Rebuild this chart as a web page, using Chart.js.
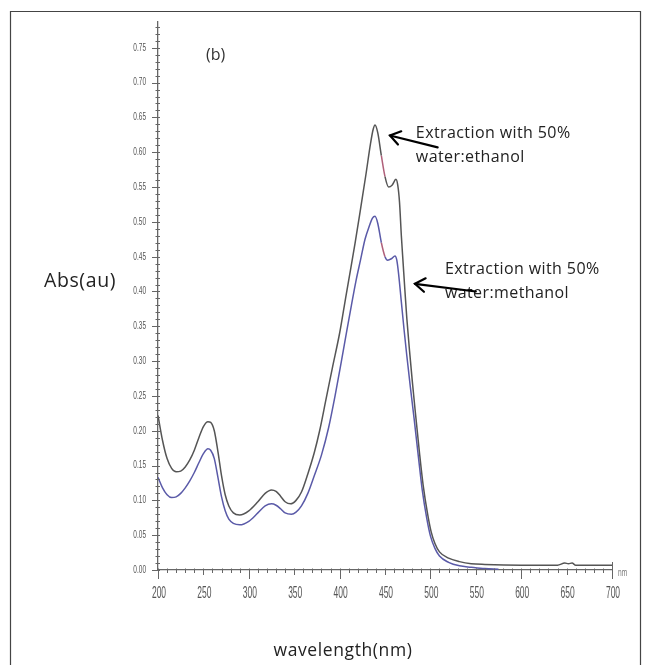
<!DOCTYPE html>
<html>
<head>
<meta charset="utf-8">
<script src="https://cdn.jsdelivr.net/npm/chart.js@4/dist/chart.umd.min.js"></script>
<style>
html,body{margin:0;padding:0;background:#fff;}
#wrap{position:relative;width:649px;height:665px;}
</style>
</head>
<body>
<div id="wrap"><canvas id="c" width="649" height="665"></canvas></div>
<script>
// ---- data ----
const ethanolNm  = [200,205,210,215,220,225,230,235,240,245,250,255,258,262,266,270,274,278,283,290,300,310,318,325,330,335,340,346,352,358,365,372,378,385,392,400,405,410,417,423,429,434,437,439,442,446,450,454,458,462,464,466,468,470,472,474,477,480,483,488,492,497,501,505,510,520,532,545,560,600,640,648,652,656,660,700];
const ethanolAbs = [0.222,0.186,0.160,0.146,0.141,0.142,0.148,0.158,0.172,0.190,0.206,0.213,0.212,0.200,0.170,0.135,0.108,0.092,0.082,0.079,0.085,0.098,0.110,0.115,0.113,0.106,0.098,0.095,0.100,0.112,0.138,0.168,0.200,0.245,0.290,0.340,0.378,0.416,0.469,0.518,0.568,0.612,0.633,0.639,0.628,0.595,0.565,0.550,0.553,0.561,0.553,0.528,0.480,0.440,0.400,0.362,0.315,0.272,0.232,0.168,0.122,0.080,0.054,0.038,0.026,0.017,0.012,0.009,0.008,0.007,0.007,0.010,0.009,0.010,0.007,0.007];
const methanolNm  = [200,205,210,215,220,225,230,235,240,245,250,255,258,262,266,270,274,278,283,290,300,310,318,325,330,335,340,347,352,358,365,372,380,388,395,402,408,413,418,423,428,433,436,439,442,446,450,453,457,461,463,465,468,471,474,478,482,487,491,496,500,505,510,520,532,545,560,575];
const methanolAbs = [0.133,0.118,0.108,0.104,0.105,0.110,0.118,0.128,0.140,0.154,0.167,0.174,0.172,0.160,0.133,0.105,0.085,0.073,0.067,0.065,0.070,0.082,0.092,0.095,0.093,0.088,0.082,0.080,0.083,0.092,0.110,0.135,0.165,0.205,0.250,0.300,0.344,0.380,0.415,0.445,0.475,0.495,0.505,0.508,0.498,0.470,0.450,0.445,0.447,0.451,0.445,0.425,0.385,0.345,0.308,0.262,0.218,0.160,0.115,0.074,0.049,0.031,0.020,0.011,0.006,0.004,0.002,0.001];
const xTickLabels = ['200','250','300','350','400','450','500','550','600','650','700'];
const yTickLabels = ['0.00','0.05','0.10','0.15','0.20','0.25','0.30','0.35','0.40','0.45','0.50','0.55','0.60','0.65','0.70','0.75'];
const seriesNames = ['Extraction with 50% water:ethanol','Extraction with 50% water:methanol'];

const toXY = (xs, ys) => xs.map((x, i) => ({x: x, y: ys[i]}));
const tint = (base) => ({
  borderColor: ctx => (ctx.p0.parsed.x >= 443 && ctx.p1.parsed.x <= 452) ? '#b0607a' : base
});

const axisColor = '#666';
const tickFamily = "'Liberation Sans', Arial, sans-serif";

const decor = {
  id: 'decor',
  afterDraw(chart) {
    const c = chart.ctx, xs = chart.scales.x, ys = chart.scales.y;
    const X = v => xs.getPixelForValue(v), Y = v => ys.getPixelForValue(v);
    c.save();
    // outer frame
    c.strokeStyle = '#444'; c.lineWidth = 1.2;
    c.beginPath(); c.moveTo(10.5, 665); c.lineTo(10.5, 11.5); c.lineTo(640.5, 11.5); c.lineTo(640.5, 665); c.stroke();
    // minor / major ticks
    c.strokeStyle = axisColor; c.lineWidth = 1;
    const x0 = X(200), y0 = Y(0);
    for (let i = 0; i <= 78; i++) {
      const py = Math.round(Y(i / 100)) + 0.5;
      const major = i % 5 === 0;
      c.beginPath(); c.moveTo(x0 - (major ? 6 : 2.5), py); c.lineTo(x0 + 2, py); c.stroke();
    }
    for (let v = 200; v <= 700; v += 10) {
      const px = Math.round(X(v)) + 0.5;
      const m100 = v % 100 === 0, m50 = v % 50 === 0;
      c.beginPath(); c.moveTo(px, y0 - (v === 700 ? 8 : 1.5)); c.lineTo(px, y0 + (m100 ? 9 : (m50 ? 5 : 3))); c.stroke();
    }
    // condensed tick labels, taken from the scales' own ticks
    c.fillStyle = '#555'; c.textBaseline = 'middle';
    ys.ticks.forEach((t, i) => {
      const lab = yTickLabels[i]; if (lab === undefined) return;
      c.save(); c.translate(146, ys.getPixelForValue(t.value)); c.scale(0.62, 1);
      c.font = "10.5px " + tickFamily; c.textAlign = 'right'; c.fillText(lab, 0, 0); c.restore();
    });
    xs.ticks.forEach((t, i) => {
      const lab = xTickLabels[i]; if (lab === undefined) return;
      c.save(); c.translate(xs.getPixelForValue(t.value) + 1, 594); c.scale(0.53, 1);
      c.font = "16px " + tickFamily; c.textAlign = 'center'; c.fillText(lab, 0, 0); c.restore();
    });
    c.save(); c.translate(618, 573); c.scale(0.6, 1);
    c.font = "11px " + tickFamily; c.textAlign = 'left'; c.fillStyle = '#777'; c.fillText('nm', 0, 0); c.restore();
    // texts
    c.textBaseline = 'middle'; c.textAlign = 'left';
    c.fillStyle = '#333';
    c.font = "16px 'Open Sans', sans-serif";
    c.fillText('(b)', 206, 55);
    c.fillStyle = '#222';
    c.save();
    if ('letterSpacing' in c) c.letterSpacing = '0.4px';
    c.font = "16px 'Open Sans', sans-serif";
    c.fillText('Extraction with 50%', X(484), Y(0.627));
    c.fillText('water:ethanol', X(484), Y(0.592));
    c.fillText('Extraction with 50%', X(516), Y(0.432));
    c.fillText('water:methanol', X(516), Y(0.397));
    c.restore();
    c.save();
    if ('letterSpacing' in c) c.letterSpacing = '0.6px';
    c.font = "19.5px 'Open Sans', sans-serif";
    c.fillText('Abs(au)', 44, 281);
    c.restore();
    c.save();
    if ('letterSpacing' in c) c.letterSpacing = '0.6px';
    c.font = "17.5px 'Open Sans', sans-serif";
    c.textAlign = 'center'; c.textBaseline = 'alphabetic';
    c.fillText('wavelength(nm)', 343, 656);
    c.restore();
    // arrows
    const arrow = (ax, ay, bx, by) => {
      c.strokeStyle = '#000'; c.lineWidth = 2.2; c.lineCap = 'round';
      c.beginPath(); c.moveTo(ax, ay); c.lineTo(bx, by); c.stroke();
      const ang = Math.atan2(by - ay, bx - ax), L = 12, s = 0.6;
      c.beginPath();
      c.moveTo(bx - L * Math.cos(ang - s), by - L * Math.sin(ang - s));
      c.lineTo(bx, by);
      c.lineTo(bx - L * Math.cos(ang + s), by - L * Math.sin(ang + s));
      c.stroke();
    };
    arrow(X(508), Y(0.607), X(455.5), Y(0.624));
    arrow(X(550), Y(0.400), X(483), Y(0.411));
    c.restore();
  }
};

new Chart(document.getElementById('c'), {
  type: 'line',
  data: {
    datasets: [
      {label: seriesNames[0], data: toXY(ethanolNm, ethanolAbs), borderColor: '#555', borderWidth: 1.5,
       pointRadius: 0, fill: false, cubicInterpolationMode: 'monotone', segment: tint('#555')},
      {label: seriesNames[1], data: toXY(methanolNm, methanolAbs), borderColor: '#5a5aa8', borderWidth: 1.5,
       pointRadius: 0, fill: false, cubicInterpolationMode: 'monotone', segment: tint('#5a5aa8')}
    ]
  },
  options: {
    responsive: false, animation: false,
    layout: {padding: {top: 22, right: 37, left: 0, bottom: 0}},
    plugins: {legend: {display: false}, tooltip: {enabled: false}},
    scales: {
      x: {
        type: 'linear', min: 200, max: 700,
        afterFit: s => { s.height = 95; },
        afterBuildTicks: s => { s.ticks = xTickLabels.map(t => ({value: parseFloat(t)})); },
        grid: {display: false, drawTicks: false},
        border: {display: true, color: axisColor, width: 1.3},
        ticks: {display: false}
      },
      y: {
        type: 'linear', min: 0, max: 0.787,
        afterFit: s => { s.width = 158; },
        afterBuildTicks: s => { s.ticks = yTickLabels.map(t => ({value: parseFloat(t)})); },
        grid: {display: false, drawTicks: false},
        border: {display: true, color: axisColor, width: 1.3},
        ticks: {display: false}
      }
    }
  },
  plugins: [decor]
});
</script>
</body>
</html>
